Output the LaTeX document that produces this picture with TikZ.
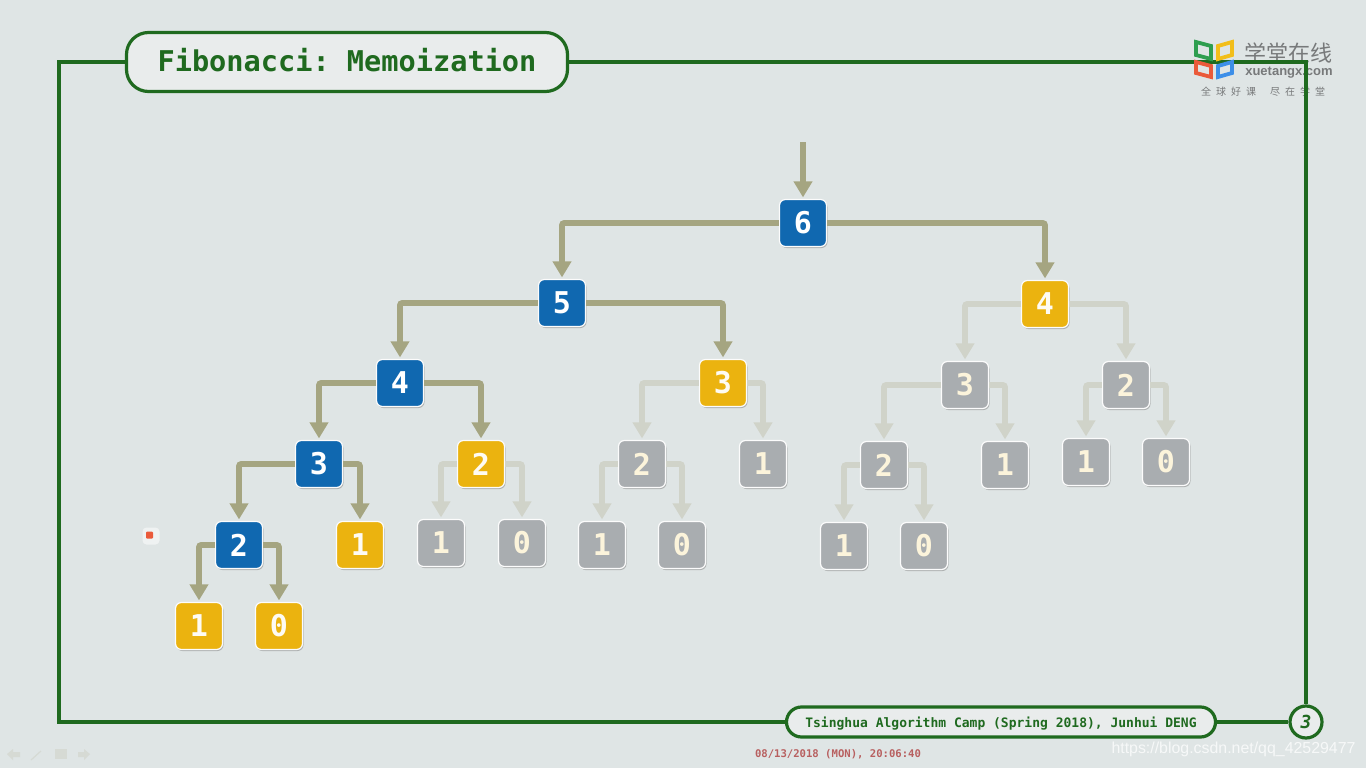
\documentclass[tikz,border=0pt]{standalone}
\usepackage{fontspec}
\setmainfont{Liberation Sans}
\setsansfont{Liberation Sans}
\setmonofont{DejaVu Sans Mono}
\newfontfamily\cjkfont{Noto Sans CJK SC}
\usetikzlibrary{arrows.meta, shadows}
\definecolor{cPage}     {HTML}{DFE5E5}
\definecolor{cPanel}    {HTML}{E9ECEC}
\definecolor{cFrame}    {HTML}{1F6A1F}
\definecolor{cBlue}     {HTML}{1068B0}
\definecolor{cYellow}   {HTML}{EBB30F}
\definecolor{cGrey}     {HTML}{A9ADB0}
\definecolor{cEdgeOn}   {HTML}{A5A581}
\definecolor{cEdgeOff}  {HTML}{D0D3C9}
\definecolor{cLogoText} {HTML}{77797A}
\definecolor{cLogoGreen}{HTML}{2E9E4F}
\definecolor{cLogoGold} {HTML}{F2BE1A}
\definecolor{cLogoRed}  {HTML}{EA5A3A}
\definecolor{cLogoBlue} {HTML}{3D8FE8}
\definecolor{cStamp}    {HTML}{B86060}
\tikzset{
  numBox/.style={rounded corners=6pt, minimum size=47pt, inner sep=0pt, draw=white!90!cPage,
    line width=1.2pt, drop shadow={opacity=0.5, shadow xshift=1pt, shadow yshift=-1.5pt},
    font=\ttfamily\bfseries\fontsize{30}{30}\selectfont},
  blueBox/.style={numBox, fill=cBlue, text=white},
  yellowBox/.style={numBox, fill=cYellow, text=white!95!cYellow},
  greyBox/.style={numBox, fill=cGrey, text=white!85!cYellow},
  edgeOn/.style={draw=cEdgeOn, line width=5.6pt, rounded corners=2pt, shorten >=1.5pt,
    -{Triangle[width=18pt, length=16pt]}},
  edgeOff/.style={draw=cEdgeOff, line width=5.6pt, rounded corners=2pt, shorten >=1.5pt,
    -{Triangle[width=18pt, length=16pt]}},
  panelBox/.style={draw=cFrame, fill=cPanel, line width=3.2pt, inner sep=0pt, text=cFrame},
  logoPage/.style={line width=3.8pt, line join=miter},
}
\begin{document}
\begin{tikzpicture}[x=1pt, y=-1pt]
  \fill[cPage] (0,0) rectangle (1366,768);
  \useasboundingbox (0,0) rectangle (1366,768);
  % logo text
  \node[font=\cjkfont\fontsize{22}{22}\selectfont, text=cLogoText, inner sep=0pt] (logoName) at (1288,53) {学堂在线};
  \node[font=\sffamily\bfseries\fontsize{13}{13}\selectfont, text=cLogoText, inner sep=0pt] (logoSite) at (1289,72.5) {xuetangx.com};
  \node[font=\cjkfont\fontsize{10}{10}\selectfont, text=cLogoText, inner sep=0pt] (logoMotto) at (1263,91.5)
    {全\hspace{5pt}球\hspace{5pt}好\hspace{5pt}课\hspace{14pt}尽\hspace{5pt}在\hspace{5pt}学\hspace{5pt}堂};
  % title and footer
  \node[panelBox, rounded corners=22pt, minimum width=441pt, minimum height=59pt,
        font=\ttfamily\bfseries\fontsize{28.6}{30}\selectfont] (title) at (347,62)
        {\raisebox{-9.5pt}[0pt][0pt]{Fibonacci: Memoization}};
  \node[panelBox, rounded corners=15pt, minimum width=429pt, minimum height=30pt,
        font=\ttfamily\bfseries\fontsize{13}{14}\selectfont] (footer) at (1001,722)
        {\raisebox{-5.5pt}[0pt][0pt]{Tsinghua Algorithm Camp (Spring 2018), Junhui DENG}};
  \node[panelBox, circle, minimum size=32pt,
        font=\ttfamily\bfseries\itshape\fontsize{18}{18}\selectfont] (pageNo) at (1306,722) {3};
  % frame
  \coordinate (cornerNW) at (59,62);
  \coordinate (cornerSW) at (59,722);
  \coordinate (cornerNE) at (1306,62);
  \draw[cFrame, line width=3.6pt, line join=miter] (title.west) -- (cornerNW) -- (cornerSW) -- (footer.west);
  \draw[cFrame, line width=3.6pt, line join=miter] (title.east) -- (cornerNE) -- (pageNo.north);
  \draw[cFrame, line width=3.6pt] (footer.east) -- (pageNo.west);
  % logo pages
  \draw[logoPage, draw=cLogoGreen] (1196,42) -- (1211,46) -- (1211,59) -- (1196,55) -- cycle;
  \draw[logoPage, draw=cLogoGold] (1218,46) -- (1232,42) -- (1232,55) -- (1218,59) -- cycle;
  \draw[logoPage, draw=cLogoRed] (1196,62) -- (1211,66) -- (1211,77) -- (1196,73) -- cycle;
  \draw[logoPage, draw=cLogoBlue] (1218,66) -- (1232,62) -- (1232,73) -- (1218,77) -- cycle;
  % recursion tree
  \foreach \name/\x/\y/\val/\kind in {
      t/803/223/6/blueBox,
      tL/562/303/5/blueBox, tR/1045/304/4/yellowBox,
      tLL/400/383/4/blueBox, tLR/723/383/3/yellowBox, tRL/965/385/3/greyBox, tRR/1126/385/2/greyBox,
      tLLL/319/464/3/blueBox, tLLR/481/464/2/yellowBox, tLRL/642/464/2/greyBox, tLRR/763/464/1/greyBox,
      tRLL/884/465/2/greyBox, tRLR/1005/465/1/greyBox, tRRL/1086/462/1/greyBox, tRRR/1166/462/0/greyBox,
      tLLLL/239/545/2/blueBox, tLLLR/360/545/1/yellowBox, tLLRL/441/543/1/greyBox, tLLRR/522/543/0/greyBox,
      tLRLL/602/545/1/greyBox, tLRLR/682/545/0/greyBox, tRLLL/844/546/1/greyBox, tRLLR/924/546/0/greyBox,
      tLLLLL/199/626/1/yellowBox, tLLLLR/279/626/0/yellowBox}{
    \node[\kind] (\name) at (\x,\y) {\val};
  }
  \coordinate (rootIn) at (803,142);
  \draw[edgeOn] (rootIn) -- (t.north);
  \foreach \p/\a/\c/\kind in {
      t/west/tL/edgeOn, t/east/tR/edgeOn, tL/west/tLL/edgeOn, tL/east/tLR/edgeOn,
      tLL/west/tLLL/edgeOn, tLL/east/tLLR/edgeOn, tLLL/west/tLLLL/edgeOn, tLLL/east/tLLLR/edgeOn,
      tLLLL/west/tLLLLL/edgeOn, tLLLL/east/tLLLLR/edgeOn,
      tR/west/tRL/edgeOff, tR/east/tRR/edgeOff, tLR/west/tLRL/edgeOff, tLR/east/tLRR/edgeOff,
      tLLR/west/tLLRL/edgeOff, tLLR/east/tLLRR/edgeOff, tRL/west/tRLL/edgeOff, tRL/east/tRLR/edgeOff,
      tRR/west/tRRL/edgeOff, tRR/east/tRRR/edgeOff, tLRL/west/tLRLL/edgeOff, tLRL/east/tLRLR/edgeOff,
      tRLL/west/tRLLL/edgeOff, tRLL/east/tRLLR/edgeOff}{
    \draw[\kind] (\p.\a) -| (\c.north);
  }
  % pointer mark and slide controls
  \node[fill=white!50!cPage, rounded corners=4pt, minimum size=17pt, inner sep=0pt] (pointerBase) at (151,536) {};
  \node[fill=cLogoRed, rounded corners=1pt, minimum width=7pt, minimum height=7pt, inner sep=0pt] (pointerMark) at (149.5,535) {};
  \fill[cEdgeOff!60!cPage] (7,754) -- (13,749) -- (13,752) -- (20,752) -- (20,757) -- (13,757) -- (13,760) -- cycle;
  \draw[cEdgeOff!60!cPage, line width=1.2pt] (31,760) -- (41,751);
  \fill[cEdgeOff!60!cPage] (55,749) rectangle (67,759);
  \fill[cEdgeOff!60!cPage] (90,754) -- (84,749) -- (84,752) -- (78,752) -- (78,757) -- (84,757) -- (84,760) -- cycle;
  % stamps
  \node[font=\ttfamily\bfseries\fontsize{10.6}{10}\selectfont, text=cStamp, inner sep=0pt] (stamp) at (838,754)
    {08/13/2018 (MON), 20:06:40};
  \node[font=\sffamily\fontsize{15.9}{16}\selectfont, text=white, opacity=0.75, inner sep=0pt] (watermark) at (1233.5,749)
    {https://blog.csdn.net/qq\_42529477};
\end{tikzpicture}
\end{document}
